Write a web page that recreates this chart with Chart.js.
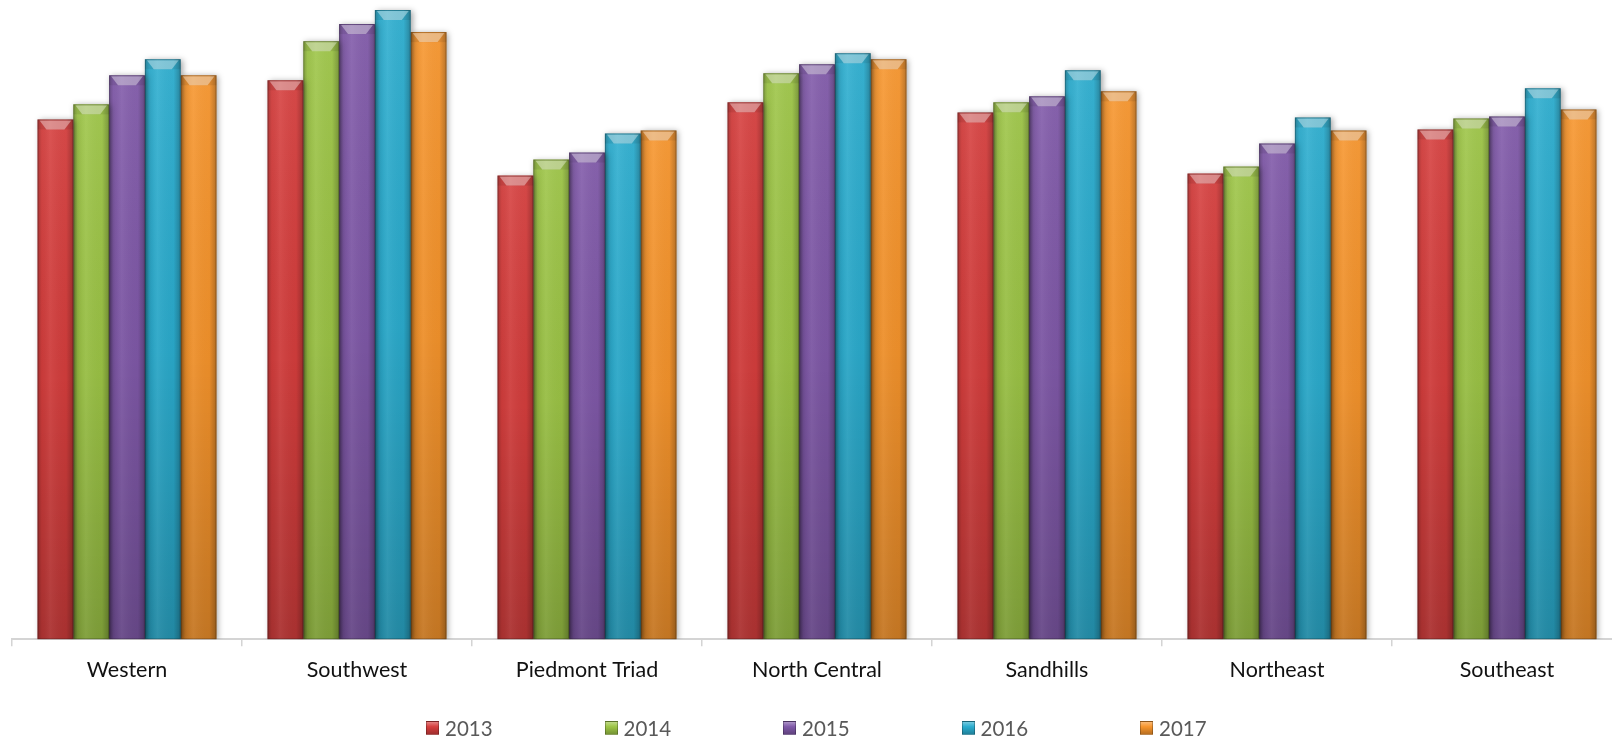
<!DOCTYPE html>
<html>
<head>
<meta charset="utf-8">
<script src="https://cdn.jsdelivr.net/npm/chart.js@4/dist/chart.umd.min.js"></script>
<style>
  html, body { margin: 0; padding: 0; background: #fff; overflow: hidden; }
  #wrap { position: relative; width: 1634px; height: 739px; }
  #leyenda { position: absolute; left: 426px; top: 716px; display: flex; font-family: Lato, sans-serif; font-size: 20.5px; color: #595959; }
  #leyenda .item { width: 178.5px; display: flex; align-items: center; }
  #leyenda .caja { width: 13px; height: 14px; margin-right: 6px; box-sizing: border-box; border: 1px solid rgba(0,0,0,0.25); }
</style>
</head>
<body>
<div id="wrap">
  <canvas id="graficoRegiones" width="1634" height="739"></canvas>
  <div id="leyenda"></div>
</div>
<script>
// Regiones y años
const regiones = ["Western", "Southwest", "Piedmont Triad", "North Central", "Sandhills", "Northeast", "Southeast"];
const anios = ["2013", "2014", "2015", "2016", "2017"];

// Valores por año (mismo orden que regiones)
const valores2013 = [518, 557, 462, 535, 525, 464, 508];
const valores2014 = [533, 596, 478, 564, 535, 471, 519];
const valores2015 = [562, 613, 485, 573, 541, 494, 521];
const valores2016 = [578, 627, 504, 584, 567, 520, 549];
const valores2017 = [562, 605, 507, 578, 546, 507, 528];

const colores = ["#d63e3d", "#9dc546", "#8059a9", "#2badcf", "#f7952c"];
const series = [valores2013, valores2014, valores2015, valores2016, valores2017];

// Sombra suave detrás de cada barra
const sombraBarras = {
  id: "sombraBarras",
  beforeDatasetDraw(chart) {
    const c = chart.ctx;
    c.save();
    c.shadowColor = "rgba(0,0,0,0.35)";
    c.shadowBlur = 6;
    c.shadowOffsetX = 2;
    c.shadowOffsetY = 1;
  },
  afterDatasetDraw(chart) {
    chart.ctx.restore();
  }
};

// Relieve: degradados y bisel superior sobre cada barra
const relieveBarras = {
  id: "relieveBarras",
  afterDatasetsDraw(chart) {
    const c = chart.ctx;
    chart.data.datasets.forEach((ds, i) => {
      const meta = chart.getDatasetMeta(i);
      meta.data.forEach(bar => {
        const { x, y, base, width } = bar.getProps(["x", "y", "base", "width"], true);
        const x0 = x - width / 2, x1 = x + width / 2;
        const h = base - y;
        c.save();

        // oscurece hacia abajo
        let g = c.createLinearGradient(0, y, 0, base);
        g.addColorStop(0, "rgba(255,255,255,0.06)");
        g.addColorStop(0.5, "rgba(0,0,0,0.04)");
        g.addColorStop(1, "rgba(0,0,0,0.2)");
        c.fillStyle = g;
        c.fillRect(x0, y, width, h);

        // bordes laterales más oscuros
        g = c.createLinearGradient(x0, 0, x1, 0);
        g.addColorStop(0, "rgba(0,0,0,0.22)");
        g.addColorStop(0.12, "rgba(0,0,0,0.03)");
        g.addColorStop(0.35, "rgba(255,255,255,0.06)");
        g.addColorStop(0.8, "rgba(0,0,0,0.02)");
        g.addColorStop(1, "rgba(0,0,0,0.25)");
        c.fillStyle = g;
        c.fillRect(x0, y, width, h);

        // bisel superior
        c.fillStyle = "rgba(0,0,0,0.08)";
        c.fillRect(x0, y, width, 10);
        c.beginPath();
        c.moveTo(x0 + 2, y + 1);
        c.lineTo(x1 - 2, y + 1);
        c.lineTo(x + 9, y + 10);
        c.lineTo(x - 9, y + 10);
        c.closePath();
        c.fillStyle = "rgba(255,255,255,0.38)";
        c.fill();

        // contorno fino
        c.strokeStyle = "rgba(0,0,0,0.22)";
        c.lineWidth = 1;
        c.strokeRect(x0 + 0.5, y + 0.5, width - 1, h - 1);
        c.restore();
      });
    });
  }
};

const ctx = document.getElementById("graficoRegiones").getContext("2d");

const chart = new Chart(ctx, {
  type: "bar",
  data: {
    labels: regiones,
    datasets: anios.map((a, i) => ({
      label: a,
      data: series[i],
      backgroundColor: colores[i],
      borderWidth: 0,
      barPercentage: 1,
      categoryPercentage: 0.778
    }))
  },
  options: {
    responsive: false,
    animation: false,
    layout: { padding: { left: 12, right: 12, top: 0, bottom: 45 } },
    plugins: {
      legend: { display: false },
      tooltip: { enabled: false }
    },
    scales: {
      x: {
        grid: { drawOnChartArea: false, tickLength: 7, color: "#d4d4d4", lineWidth: 1.5 },
        border: { color: "#d4d4d4", width: 2 },
        ticks: { padding: 11, color: "#111", font: { family: "Lato", size: 21.5 } }
      },
      y: { display: false, min: 0, max: 637 }
    }
  },
  plugins: [sombraBarras, relieveBarras]
});

// Leyenda en HTML a partir de los datasets
const leyenda = document.getElementById("leyenda");
chart.data.datasets.forEach(ds => {
  const item = document.createElement("div");
  item.className = "item";
  item.innerHTML = `<span class="caja" style="background: linear-gradient(to bottom, rgba(255,255,255,0.35), rgba(255,255,255,0) 40%, rgba(0,0,0,0.25)), ${ds.backgroundColor}"></span><span>${ds.label}</span>`;
  leyenda.appendChild(item);
});
</script>
</body>
</html>
